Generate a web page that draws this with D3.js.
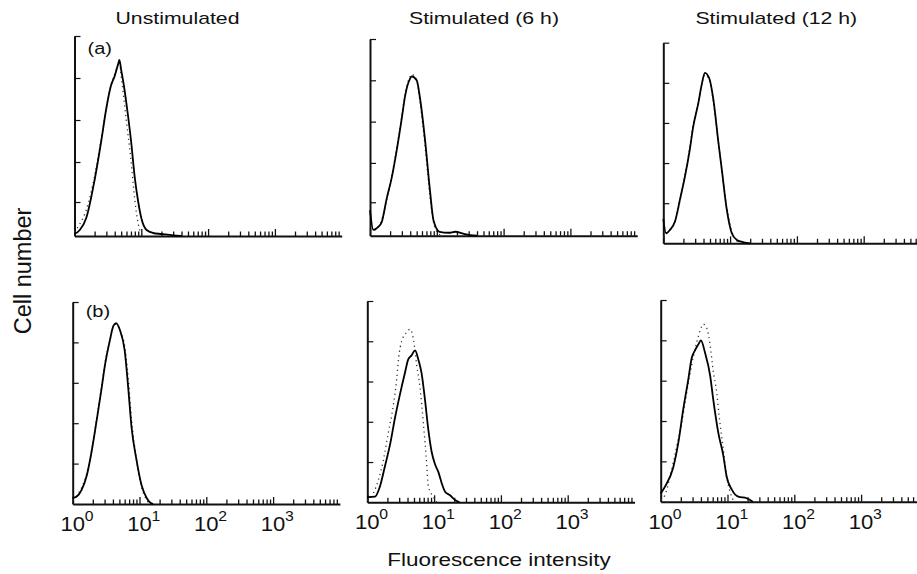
<!DOCTYPE html>
<html>
<head>
<meta charset="utf-8">
<script src="https://cdn.jsdelivr.net/npm/d3@7"></script>
<style>
  body { margin: 0; background: #fff; }
  svg { display: block; font-family: "Liberation Sans", Arial, Helvetica, sans-serif; }
</style>
</head>
<body>
<svg id="chart" width="917" height="574"></svg>
<script>
// ---- data (fluorescence, cell count as % of axis height) ----
const titles = ["Unstimulated", "Stimulated (6 h)", "Stimulated (12 h)"];
const rowLabels = ["(a)", "(b)"];
const decades = [1, 10, 100, 1000];
const exponents = ["0", "1", "2", "3"];
const yTicksTop = [17, 37, 58, 79, 100];
const yTicksBottom = [20, 40, 60, 80, 100];

// row (a)
const a1Solid = [[1,1],[1.2,3],[1.5,9],[2,28],[2.5,47],[3,64],[3.5,75],[4,80],[4.5,86],[4.7,88],[5,83],[5.5,75],[6,66],[7,48],[8,29],[9,17],[10,9],[12,3],[15,1.5],[20,1],[30,0.3],[40,0]];
const a1Dotted = [[1,2],[1.2,6],[1.5,13],[2,30],[2.5,48],[3,64],[3.5,75],[4,81],[4.5,86],[4.7,87],[5,80],[5.5,68],[6,57],[7,38],[8,18],[9,6],[10,1],[11,0]];
const a2Solid = [[1,13],[1.12,3],[1.33,4.5],[1.5,7],[1.78,19],[2.1,29],[2.5,43],[3,60],[3.35,71],[4,80],[4.2,81],[5,79],[5.6,70],[6.7,48],[7.9,23],[8.9,8],[11,2],[15,1.5],[19,2],[25,1],[32,0.3],[40,0]];
const a2Dotted = [[1,2],[1.2,3],[1.5,8],[1.8,19],[2.1,30],[2.5,44],[3,61],[3.35,72],[4,81],[4.2,82],[5,79],[5.6,68],[6.7,45],[7.9,20],[8.9,7],[10,2],[12,0]];
const a3Solid = [[1,12],[1.1,5],[1.26,6.7],[1.5,11],[1.78,22],[2.1,33],[2.5,47],[2.8,58],[3.35,70],[3.75,79],[4.2,85],[4.9,82],[5.6,72],[6.7,50],[7.5,37],[8.9,17],[10.6,5],[12.6,1.7],[16,0.5],[20,0]];
const a3Dotted = [[1,3],[1.2,6],[1.5,11],[1.8,22],[2.1,34],[2.5,48],[2.8,59],[3.35,70],[3.75,79],[4.2,84],[4.9,81],[5.6,71],[6.7,50],[7.5,37],[8.9,18],[10.6,6],[12,2],[14,0]];

// row (b)
const b1Solid = [[1,3],[1.15,3.7],[1.36,7],[1.62,14],[1.92,26],[2.3,42],[2.7,57],[3.05,69],[3.6,81],[4.05,88],[4.45,89.5],[5.1,86],[6,76],[6.8,57],[7.6,38],[9,22],[10.8,9],[12.8,3],[15,0.3],[16,0]];
const b1Dotted = [[1,2],[1.2,5],[1.4,9],[1.65,16],[1.95,28],[2.3,43],[2.7,58],[3.05,70],[3.6,81],[4.05,88],[4.45,89],[5.1,86],[6,78],[6.8,62],[7.6,42],[9,22],[10.8,8],[12.8,2],[14,0]];
const b2Solid = [[1,2.5],[1.3,2.8],[1.55,8],[1.84,18],[2.2,29],[2.6,42],[3.1,54],[3.67,64.5],[4.1,71],[4.6,73],[5.2,75.5],[5.8,71],[6.5,64],[7.3,51],[8.2,36],[9.2,25],[10.3,19],[11.6,15],[13,9.5],[14.6,5.3],[17.3,3.5],[20.5,1.2],[24,0]];
const b2Dotted = [[1,1],[1.23,4.5],[1.74,21],[2.06,34.5],[2.45,48],[2.75,61],[2.95,72],[3.27,80],[3.9,84.5],[4.36,86],[4.9,81],[5.5,68],[6.15,57],[6.9,39.5],[7.6,23],[8.2,8],[9.7,2.8],[11,0]];
const b3Solid = [[1,4],[1.16,7.5],[1.54,17],[1.83,29],[2.18,46],[2.6,61],[2.9,71],[3.26,75],[3.66,78],[4,80],[4.6,74],[5.5,62.5],[6.1,51],[7.3,34],[8.65,23],[9.7,12.5],[11.6,6],[14.5,2.5],[19.4,1.7],[24,0]];
const b3Dotted = [[1,1],[1.16,3.3],[1.38,12.5],[1.74,27.5],[2.06,39],[2.45,54],[2.9,67.5],[3.46,79],[3.9,85],[4.35,88],[4.9,86],[5.5,77.5],[6.1,65],[6.9,54],[7.5,42.5],[8.65,26],[9.7,12.5],[10.9,5],[12.5,0]];

const solids = [a1Solid, a2Solid, a3Solid, b1Solid, b2Solid, b3Solid];
const dotteds = [a1Dotted, a2Dotted, a3Dotted, b1Dotted, b2Dotted, b3Dotted];

// ---- layout (the scanned panels are not perfectly aligned) ----
const frames = [
  { l: 74.5, t: 36, b: 236 },
  { l: 370, t: 39, b: 235.7 },
  { l: 663.3, t: 42.7, b: 243.3 },
  { l: 72.7, t: 302, b: 504 },
  { l: 367.3, t: 301, b: 502.3 },
  { l: 660.7, t: 300, b: 501.7 }
];
const titleShift = [103, 114, 113];
const decadePx = 66.8;
const sx = 1.25; // the figure is stretched horizontally

const svg = d3.select("#chart");

function txt(x, y, s, size, anchor, stretch) {
  return svg.append("text")
    .attr("transform", "translate(" + x + "," + y + ") scale(" + (stretch || 1) + ",1)")
    .attr("text-anchor", anchor || "start")
    .attr("font-size", size)
    .attr("fill", "#111")
    .text(s);
}

frames.forEach((f, i) => {
  const row = i < 3 ? 0 : 1;
  const x = d3.scaleLog().domain([1, 1e4]).range([f.l, f.l + 4 * decadePx]);
  const y = d3.scaleLinear().domain([0, 100]).range([f.b, f.t]);
  const g = svg.append("g");

  // x axis, ticks pointing up
  const xt = x.ticks().filter(v => v < 1e4);
  const gx = g.append("g")
    .attr("transform", "translate(0," + f.b + ")")
    .call(d3.axisBottom(x).tickValues(xt).tickSize(-4).tickSizeOuter(0).tickFormat(""));
  gx.select(".domain").attr("stroke", "#111").attr("stroke-width", 2);
  gx.selectAll(".tick line")
    .attr("stroke", "#111").attr("stroke-width", 1.3)
    .attr("y2", d => decades.includes(d) ? -7 : -4.5);

  // y axis, ticks pointing right
  const gy = g.append("g")
    .attr("transform", "translate(" + f.l + ",0)")
    .call(d3.axisLeft(y).tickValues(i < 2 ? yTicksTop : yTicksBottom)
      .tickSize(-6).tickSizeOuter(0).tickFormat(""));
  gy.select(".domain").attr("stroke", "#111").attr("stroke-width", 2);
  gy.selectAll(".tick line").attr("stroke", "#111").attr("stroke-width", 1.2);

  const line = d3.line().x(d => x(d[0])).y(d => y(d[1])).curve(d3.curveMonotoneX);
  g.append("path").datum(dotteds[i]).attr("d", line)
    .attr("fill", "none").attr("stroke", "#333").attr("stroke-width", 1.3)
    .attr("stroke-dasharray", "1.2,3.6");
  g.append("path").datum(solids[i]).attr("d", line)
    .attr("fill", "none").attr("stroke", "#000").attr("stroke-width", 1.8)
    .attr("stroke-linejoin", "round");

  if (row === 0) {
    txt(x(1) + titleShift[i], 24, titles[i], 17, "middle", sx);
  }
  if (i % 3 === 0) {
    txt(f.l + 13, f.t + (row === 0 ? 18 : 15), rowLabels[row], 16, "start", sx);
  }
  if (row === 1) {
    decades.forEach((d, k) => {
      txt(x(d), f.b + 27, "10", 21, "middle", 1.05);
      txt(x(d) + 12, f.b + 17, exponents[k], 15, "start", 1.05);
    });
  }
});

svg.append("text")
  .attr("transform", "translate(31,271) rotate(-90)")
  .attr("text-anchor", "middle")
  .attr("font-size", 23.5)
  .attr("fill", "#111")
  .text("Cell number");

txt(499, 566, "Fluorescence intensity", 18, "middle", sx);
</script>
</body>
</html>
